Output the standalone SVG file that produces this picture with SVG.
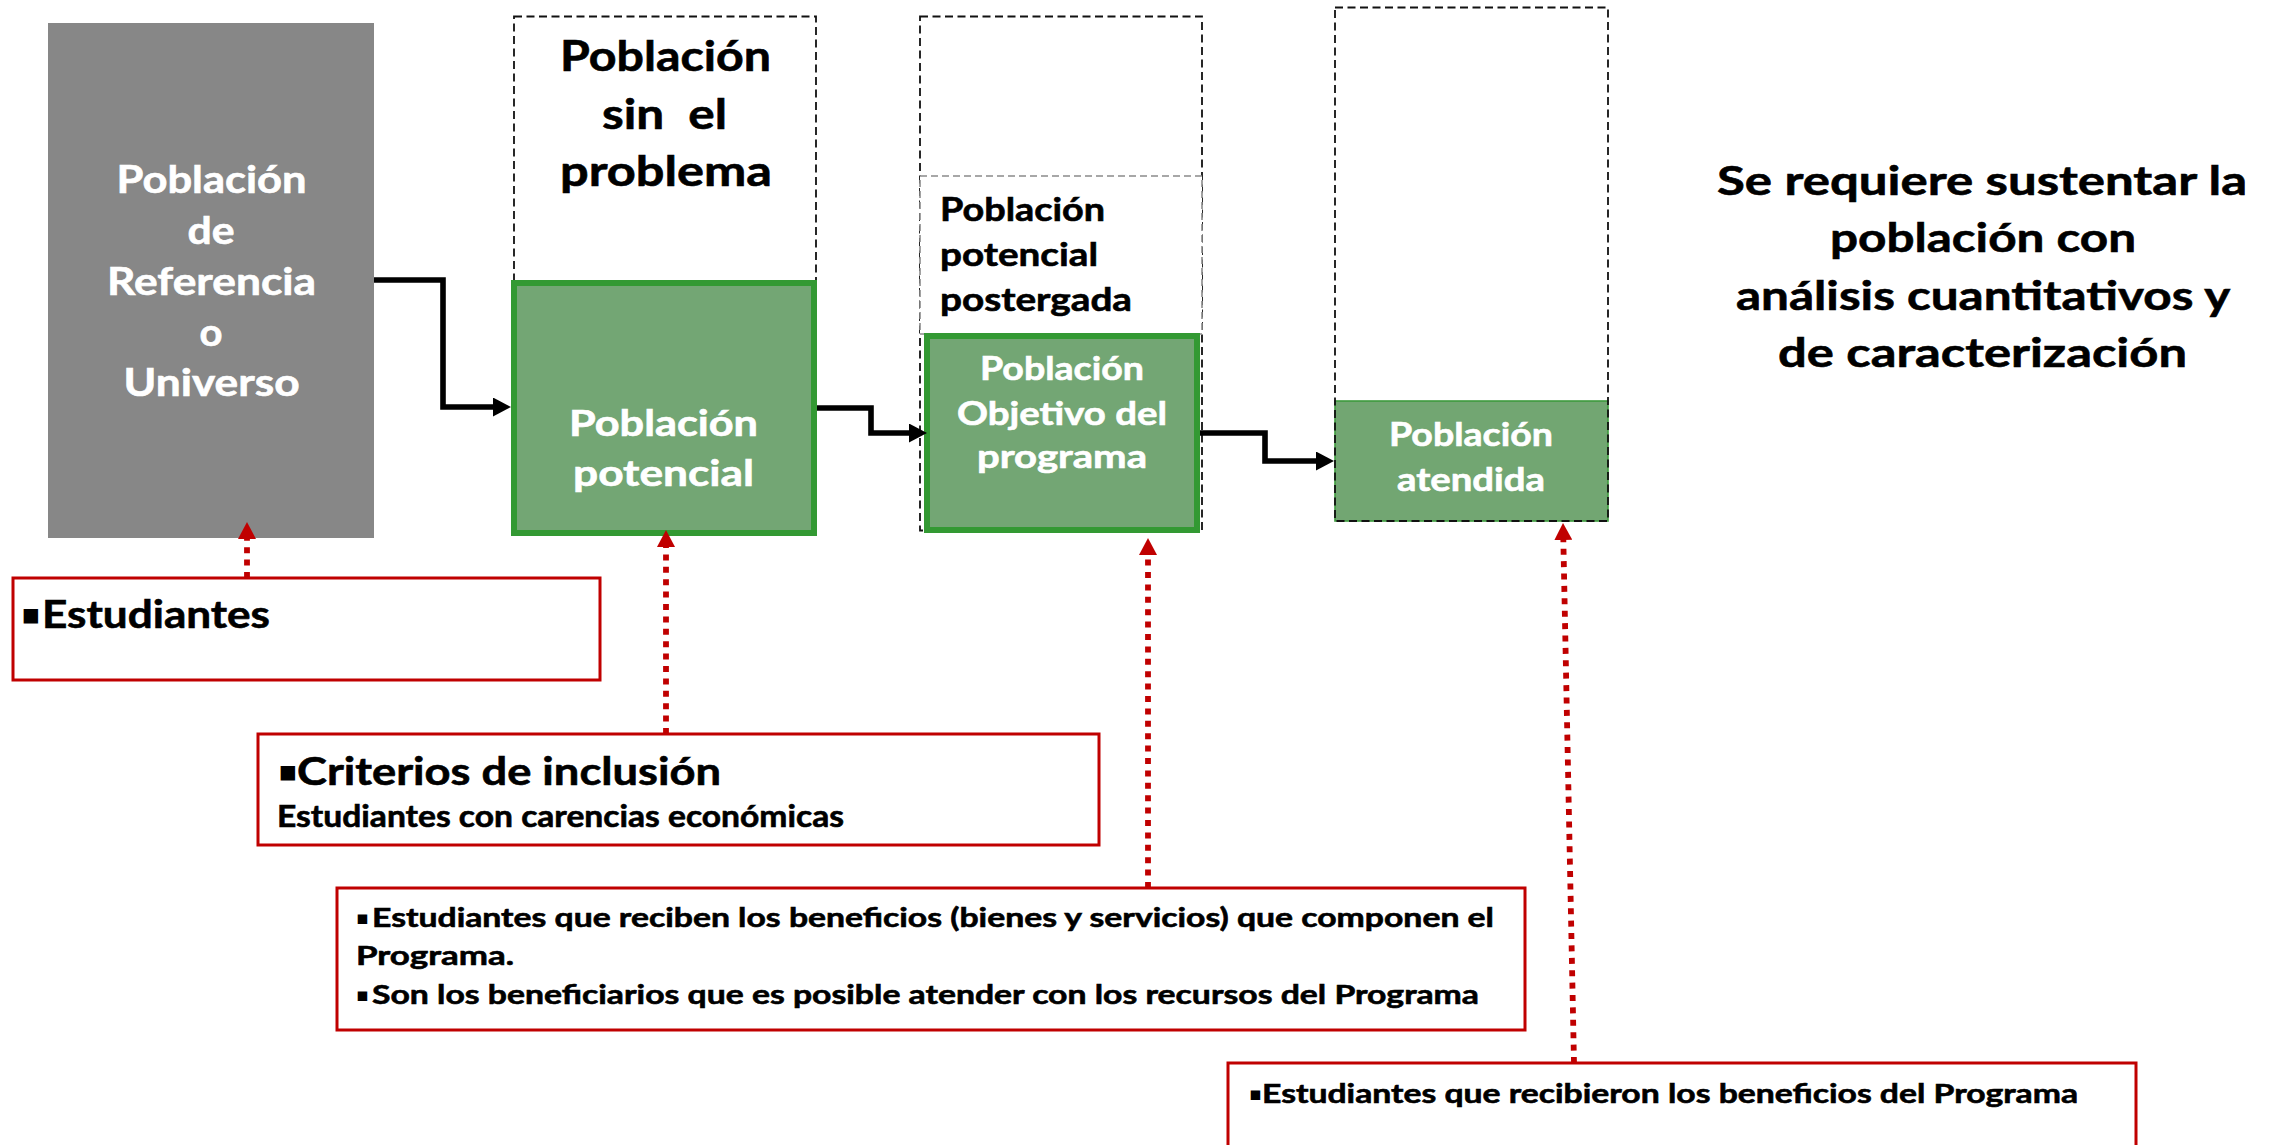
<svg xmlns="http://www.w3.org/2000/svg" width="2282" height="1145" viewBox="0 0 2282 1145">
  <defs>
    <style>
      text { font-family: Lato, "Open Sans", "Liberation Sans", sans-serif; font-weight: 700; }
      .wt { fill: #ffffff; stroke: #ffffff; stroke-width: 0.6; }
      .bk { fill: #000000; stroke: #000000; stroke-width: 0.6; }
      .blt { font-family: "DejaVu Sans", sans-serif; stroke: none; }
      .universe { fill: #878787; }
      .green-strong { fill: #73a674; stroke: #339933; stroke-width: 6; }
      .green-soft { fill: #72a672; stroke: #3c9a3c; stroke-width: 1.6; }
      .dash-black { fill: none; stroke: #111; stroke-width: 1.8; stroke-dasharray: 8 4.5; }
      .dash-grey { fill: #ffffff; stroke: #8a8a8a; stroke-width: 1.6; stroke-dasharray: 7 4; }
      .note { fill: #ffffff; stroke: #c00000; stroke-width: 3; }
      .flow { fill: none; stroke: #000; stroke-width: 5.6; stroke-linejoin: miter; }
      .link { fill: none; stroke: #c00000; stroke-width: 5.8; stroke-dasharray: 6 6.4; }
    </style>
    <marker id="arrow-flow" markerUnits="userSpaceOnUse" viewBox="0 0 18 19" markerWidth="18" markerHeight="19" refX="2" refY="9.5" orient="auto">
      <path d="M0,0 L18,9.5 L0,19 Z" fill="#000"/>
    </marker>
    <marker id="arrow-link" markerUnits="userSpaceOnUse" viewBox="0 0 17 18" markerWidth="17" markerHeight="18" refX="2" refY="9" orient="auto">
      <path d="M0,0 L17,9 L0,18 Z" fill="#c00000"/>
    </marker>
  </defs>

  <!-- Reference population / universe -->
  <g id="poblacion-referencia">
    <rect class="universe" x="48" y="23" width="326" height="515"/>
    <text class="wt" font-size="38">
      <tspan x="116.5" y="193" textLength="190" lengthAdjust="spacingAndGlyphs">Población</tspan>
      <tspan x="187.5" y="244" textLength="47" lengthAdjust="spacingAndGlyphs">de</tspan>
      <tspan x="107" y="295" textLength="209" lengthAdjust="spacingAndGlyphs">Referencia</tspan>
      <tspan x="199.5" y="346" textLength="23" lengthAdjust="spacingAndGlyphs">o</tspan>
      <tspan x="123.6" y="396" textLength="176" lengthAdjust="spacingAndGlyphs">Universo</tspan>
    </text>
  </g>

  <!-- Population without the problem (dashed frame above the potential population) -->
  <g id="poblacion-sin-problema">
    <rect class="dash-black" x="514" y="16.5" width="302" height="518"/>
    <text class="bk" font-size="42" xml:space="preserve"><tspan x="560" y="71" textLength="211" lengthAdjust="spacingAndGlyphs">Población</tspan><tspan x="602" y="129" textLength="125" lengthAdjust="spacingAndGlyphs">sin  el</tspan><tspan x="560" y="186" textLength="212" lengthAdjust="spacingAndGlyphs">problema</tspan></text>
  </g>

  <!-- Potential population -->
  <g id="poblacion-potencial">
    <rect class="green-strong" x="514" y="283" width="300" height="250"/>
    <text class="wt" font-size="36">
      <tspan x="569" y="436" textLength="189" lengthAdjust="spacingAndGlyphs">Población</tspan>
      <tspan x="573" y="486" textLength="181" lengthAdjust="spacingAndGlyphs">potencial</tspan>
    </text>
  </g>

  <!-- Deferred potential population (dashed frame above the target population) -->
  <g id="poblacion-postergada">
    <rect class="dash-black" x="920" y="16.5" width="282" height="514"/>
    <rect class="dash-grey" x="920" y="176" width="282" height="158"/>
    <text class="bk" font-size="32">
      <tspan x="940" y="221" textLength="165" lengthAdjust="spacingAndGlyphs">Población</tspan>
      <tspan x="940" y="266" textLength="158" lengthAdjust="spacingAndGlyphs">potencial</tspan>
      <tspan x="940" y="311" textLength="192" lengthAdjust="spacingAndGlyphs">postergada</tspan>
    </text>
  </g>

  <!-- Target population of the programme -->
  <g id="poblacion-objetivo">
    <rect class="green-strong" x="927" y="336" width="270" height="194"/>
    <text class="wt" font-size="32">
      <tspan x="980" y="380" textLength="164" lengthAdjust="spacingAndGlyphs">Población</tspan>
      <tspan x="957" y="425" textLength="210" lengthAdjust="spacingAndGlyphs">Objetivo del</tspan>
      <tspan x="977" y="468" textLength="170" lengthAdjust="spacingAndGlyphs">programa</tspan>
    </text>
  </g>

  <!-- Served population -->
  <g id="poblacion-atendida">
    <rect class="green-soft" x="1335" y="401" width="273" height="120"/>
    <rect class="dash-black" x="1335" y="7.5" width="273" height="513.5"/>
    <text class="wt" font-size="32">
      <tspan x="1389" y="446" textLength="164" lengthAdjust="spacingAndGlyphs">Población</tspan>
      <tspan x="1397" y="491" textLength="148" lengthAdjust="spacingAndGlyphs">atendida</tspan>
    </text>
  </g>

  <!-- Side statement -->
  <g id="nota-sustento">
    <text class="bk" font-size="41">
      <tspan x="1717" y="195" textLength="530" lengthAdjust="spacingAndGlyphs">Se requiere sustentar la</tspan>
      <tspan x="1830" y="252" textLength="306" lengthAdjust="spacingAndGlyphs">población con</tspan>
      <tspan x="1736" y="310" textLength="493" lengthAdjust="spacingAndGlyphs">análisis cuantitativos y</tspan>
      <tspan x="1778" y="367" textLength="409" lengthAdjust="spacingAndGlyphs">de caracterización</tspan>
    </text>
  </g>

  <!-- Description boxes -->
  <g id="desc-referencia">
    <rect class="note" x="13" y="578" width="587" height="102"/>
    <text class="bk" font-size="39"><tspan class="blt" x="21" y="624" font-size="29">▪</tspan><tspan x="42" y="628" textLength="228" lengthAdjust="spacingAndGlyphs">Estudiantes</tspan></text>
  </g>

  <g id="desc-potencial">
    <rect class="note" x="258" y="734" width="841" height="111"/>
    <text class="bk" font-size="39"><tspan class="blt" x="278" y="781" font-size="29">▪</tspan><tspan x="297" y="785" textLength="424" lengthAdjust="spacingAndGlyphs">Criterios de inclusión</tspan></text>
    <text class="bk" font-size="30" x="277" y="827" textLength="567" lengthAdjust="spacingAndGlyphs">Estudiantes con carencias económicas</text>
  </g>

  <g id="desc-objetivo">
    <rect class="note" x="337" y="888" width="1188" height="142"/>
    <text class="bk" font-size="27"><tspan class="blt" x="356" y="924" font-size="19">▪</tspan><tspan x="372" y="927" textLength="1122" lengthAdjust="spacingAndGlyphs">Estudiantes que reciben los beneficios (bienes y servicios) que componen el</tspan></text>
    <text class="bk" font-size="27" x="356" y="965" textLength="158" lengthAdjust="spacingAndGlyphs">Programa.</text>
    <text class="bk" font-size="27"><tspan class="blt" x="356" y="1001" font-size="19">▪</tspan><tspan x="372" y="1004" textLength="1107" lengthAdjust="spacingAndGlyphs">Son los beneficiarios que es posible atender con los recursos del Programa</tspan></text>
  </g>

  <g id="desc-atendida">
    <rect class="note" x="1228" y="1063" width="908" height="100"/>
    <text class="bk" font-size="27"><tspan class="blt" x="1249" y="1100" font-size="19">▪</tspan><tspan x="1262" y="1103" textLength="816" lengthAdjust="spacingAndGlyphs">Estudiantes que recibieron los beneficios del Programa</tspan></text>
  </g>

  <!-- Connectors -->
  <g id="connectors">
    <path class="flow" d="M374,280 H443 V407 H495" marker-end="url(#arrow-flow)"/>
    <path class="flow" d="M817,408 H871 V433 H911" marker-end="url(#arrow-flow)"/>
    <path class="flow" d="M1200,433 H1265 V461 H1318" marker-end="url(#arrow-flow)"/>
    <path class="link" d="M247,578 V537" marker-end="url(#arrow-link)"/>
    <path class="link" d="M666,734 V545" marker-end="url(#arrow-link)"/>
    <path class="link" d="M1148,888 V553" marker-end="url(#arrow-link)"/>
    <path class="link" d="M1574,1063 L1563.3,538" marker-end="url(#arrow-link)"/>
  </g>
</svg>
